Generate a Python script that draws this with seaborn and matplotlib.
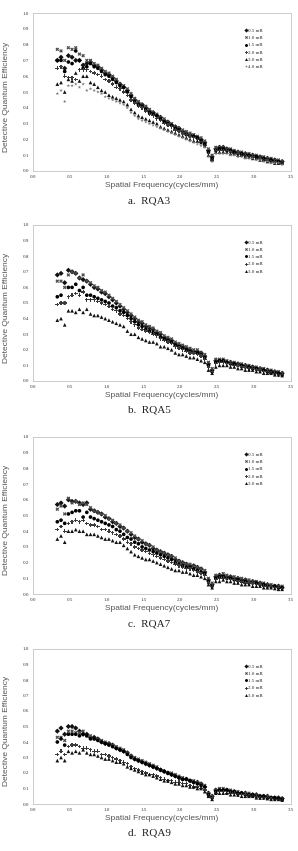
import pandas as pd
import matplotlib
matplotlib.use("Agg")
import matplotlib.pyplot as plt
import seaborn as sns

# spatial frequency sampling (cycles/mm), shared by every curve
freq = [0.33, 0.38, 0.43, 0.48, 0.53, 0.58, 0.63, 0.68, 0.73, 0.78,
        0.83, 0.88, 0.93, 0.98, 1.03, 1.08, 1.13, 1.18, 1.23, 1.28,
        1.33, 1.38, 1.43, 1.48, 1.53, 1.58, 1.63, 1.68, 1.73, 1.78,
        1.83, 1.88, 1.93, 1.98, 2.03, 2.08, 2.13, 2.18, 2.23, 2.28,
        2.33, 2.38, 2.43, 2.48, 2.53, 2.58, 2.63, 2.68, 2.73, 2.78,
        2.83, 2.88, 2.93, 2.98, 3.03, 3.08, 3.13, 3.18, 3.23, 3.28,
        3.33, 3.38]

doses = ["0.5 mR", "1.0 mR", "1.5 mR", "2.0 mR", "3.0 mR", "4.0 mR"]

# a. RQA3
rqa3_05 = [0.70, 0.72, 0.65, 0.73, 0.72, 0.70, 0.70, 0.67, 0.68, 0.69, 0.67, 0.66, 0.64, 0.62, 0.61, 0.59, 0.57, 0.55, 0.53, 0.51, 0.48, 0.45, 0.43, 0.42, 0.40, 0.38, 0.37, 0.35, 0.34, 0.32, 0.31, 0.29, 0.28, 0.27, 0.25, 0.24, 0.23, 0.22, 0.21, 0.20, 0.18, 0.13, 0.09, 0.14, 0.15, 0.15, 0.14, 0.13, 0.12, 0.12, 0.11, 0.11, 0.10, 0.10, 0.09, 0.09, 0.08, 0.08, 0.07, 0.07, 0.06, 0.06]
rqa3_10 = [0.77, 0.76, 0.70, 0.78, 0.77, 0.78, 0.74, 0.73, 0.70, 0.70, 0.68, 0.67, 0.65, 0.63, 0.62, 0.60, 0.58, 0.55, 0.54, 0.52, 0.49, 0.46, 0.44, 0.42, 0.41, 0.39, 0.37, 0.36, 0.34, 0.33, 0.31, 0.30, 0.28, 0.27, 0.26, 0.25, 0.24, 0.23, 0.22, 0.21, 0.19, 0.14, 0.10, 0.15, 0.15, 0.15, 0.14, 0.14, 0.13, 0.12, 0.12, 0.11, 0.11, 0.10, 0.10, 0.09, 0.09, 0.08, 0.08, 0.07, 0.07, 0.06]
rqa3_15 = [0.70, 0.70, 0.63, 0.69, 0.68, 0.76, 0.70, 0.65, 0.66, 0.68, 0.66, 0.65, 0.63, 0.61, 0.60, 0.58, 0.56, 0.54, 0.53, 0.50, 0.47, 0.44, 0.42, 0.41, 0.39, 0.37, 0.36, 0.35, 0.33, 0.31, 0.30, 0.29, 0.27, 0.26, 0.24, 0.23, 0.22, 0.22, 0.21, 0.19, 0.17, 0.12, 0.08, 0.13, 0.14, 0.14, 0.13, 0.13, 0.12, 0.11, 0.11, 0.10, 0.10, 0.09, 0.09, 0.08, 0.08, 0.07, 0.07, 0.06, 0.06, 0.05]
rqa3_20 = [0.65, 0.66, 0.60, 0.59, 0.59, 0.58, 0.64, 0.64, 0.64, 0.63, 0.62, 0.61, 0.60, 0.58, 0.57, 0.55, 0.53, 0.52, 0.50, 0.48, 0.45, 0.43, 0.41, 0.40, 0.38, 0.36, 0.35, 0.33, 0.32, 0.30, 0.29, 0.28, 0.26, 0.25, 0.24, 0.23, 0.22, 0.21, 0.20, 0.18, 0.16, 0.11, 0.07, 0.13, 0.13, 0.13, 0.13, 0.12, 0.11, 0.11, 0.10, 0.10, 0.09, 0.09, 0.08, 0.08, 0.07, 0.07, 0.06, 0.06, 0.05, 0.05]
rqa3_30 = [0.55, 0.56, 0.50, 0.58, 0.57, 0.62, 0.57, 0.60, 0.60, 0.56, 0.55, 0.53, 0.51, 0.50, 0.48, 0.47, 0.46, 0.45, 0.44, 0.42, 0.39, 0.37, 0.35, 0.34, 0.33, 0.32, 0.31, 0.30, 0.28, 0.27, 0.26, 0.25, 0.24, 0.23, 0.22, 0.21, 0.20, 0.19, 0.19, 0.18, 0.16, 0.10, 0.07, 0.12, 0.12, 0.12, 0.12, 0.11, 0.11, 0.10, 0.10, 0.09, 0.09, 0.08, 0.08, 0.07, 0.07, 0.06, 0.06, 0.05, 0.05, 0.05]
rqa3_40 = [0.49, 0.51, 0.44, 0.54, 0.54, 0.55, 0.53, 0.55, 0.51, 0.52, 0.51, 0.50, 0.49, 0.47, 0.46, 0.45, 0.44, 0.43, 0.42, 0.40, 0.37, 0.35, 0.33, 0.32, 0.31, 0.30, 0.29, 0.28, 0.27, 0.26, 0.25, 0.24, 0.23, 0.22, 0.21, 0.20, 0.19, 0.18, 0.17, 0.16, 0.15, 0.09, 0.06, 0.11, 0.11, 0.11, 0.11, 0.10, 0.10, 0.09, 0.09, 0.08, 0.08, 0.08, 0.07, 0.07, 0.06, 0.06, 0.05, 0.05, 0.05, 0.04]

# b. RQA5
rqa5_05 = [0.68, 0.69, 0.63, 0.71, 0.70, 0.69, 0.66, 0.65, 0.64, 0.62, 0.60, 0.59, 0.57, 0.56, 0.54, 0.52, 0.50, 0.48, 0.46, 0.44, 0.42, 0.40, 0.38, 0.37, 0.35, 0.34, 0.33, 0.31, 0.30, 0.28, 0.27, 0.26, 0.24, 0.23, 0.22, 0.21, 0.20, 0.19, 0.19, 0.18, 0.16, 0.11, 0.07, 0.13, 0.13, 0.13, 0.12, 0.12, 0.11, 0.11, 0.10, 0.10, 0.09, 0.09, 0.08, 0.08, 0.07, 0.07, 0.06, 0.06, 0.05, 0.05]
rqa5_10 = [0.64, 0.64, 0.60, 0.68, 0.70, 0.69, 0.66, 0.68, 0.64, 0.63, 0.61, 0.60, 0.58, 0.57, 0.55, 0.53, 0.51, 0.49, 0.47, 0.45, 0.43, 0.41, 0.39, 0.38, 0.36, 0.35, 0.34, 0.32, 0.31, 0.29, 0.28, 0.27, 0.25, 0.24, 0.23, 0.22, 0.21, 0.20, 0.20, 0.18, 0.17, 0.12, 0.08, 0.14, 0.14, 0.14, 0.13, 0.12, 0.12, 0.11, 0.11, 0.10, 0.10, 0.09, 0.09, 0.08, 0.08, 0.07, 0.07, 0.06, 0.06, 0.05]
rqa5_15 = [0.54, 0.55, 0.50, 0.60, 0.60, 0.62, 0.58, 0.60, 0.55, 0.55, 0.54, 0.53, 0.52, 0.51, 0.50, 0.48, 0.47, 0.45, 0.44, 0.42, 0.40, 0.38, 0.36, 0.35, 0.33, 0.32, 0.31, 0.30, 0.28, 0.27, 0.26, 0.25, 0.23, 0.22, 0.21, 0.20, 0.19, 0.18, 0.18, 0.17, 0.15, 0.10, 0.06, 0.12, 0.13, 0.13, 0.12, 0.11, 0.11, 0.10, 0.10, 0.09, 0.09, 0.08, 0.08, 0.07, 0.07, 0.06, 0.06, 0.05, 0.05, 0.04]
rqa5_20 = [0.49, 0.50, 0.50, 0.54, 0.55, 0.56, 0.55, 0.57, 0.52, 0.52, 0.52, 0.51, 0.50, 0.49, 0.48, 0.46, 0.45, 0.43, 0.42, 0.40, 0.38, 0.36, 0.34, 0.33, 0.32, 0.31, 0.30, 0.29, 0.27, 0.26, 0.25, 0.24, 0.22, 0.21, 0.20, 0.19, 0.18, 0.18, 0.17, 0.16, 0.14, 0.09, 0.06, 0.11, 0.12, 0.12, 0.11, 0.11, 0.10, 0.10, 0.09, 0.09, 0.08, 0.08, 0.07, 0.07, 0.06, 0.06, 0.05, 0.05, 0.04, 0.04]
rqa5_30 = [0.39, 0.40, 0.36, 0.45, 0.45, 0.44, 0.46, 0.44, 0.46, 0.43, 0.42, 0.42, 0.41, 0.40, 0.39, 0.38, 0.37, 0.36, 0.35, 0.32, 0.30, 0.30, 0.28, 0.27, 0.26, 0.25, 0.25, 0.24, 0.22, 0.22, 0.21, 0.20, 0.18, 0.17, 0.17, 0.16, 0.15, 0.15, 0.14, 0.13, 0.12, 0.07, 0.05, 0.09, 0.10, 0.10, 0.10, 0.09, 0.09, 0.08, 0.08, 0.07, 0.07, 0.07, 0.06, 0.06, 0.05, 0.05, 0.05, 0.04, 0.04, 0.035]

# c. RQA7
rqa7_05 = [0.57, 0.58, 0.56, 0.60, 0.59, 0.59, 0.58, 0.57, 0.58, 0.54, 0.53, 0.52, 0.51, 0.49, 0.48, 0.46, 0.45, 0.43, 0.42, 0.40, 0.38, 0.36, 0.35, 0.33, 0.32, 0.31, 0.29, 0.28, 0.27, 0.26, 0.25, 0.24, 0.22, 0.21, 0.20, 0.19, 0.18, 0.18, 0.17, 0.16, 0.14, 0.09, 0.06, 0.11, 0.12, 0.12, 0.11, 0.11, 0.10, 0.10, 0.09, 0.09, 0.08, 0.08, 0.07, 0.07, 0.06, 0.06, 0.05, 0.05, 0.05, 0.04]
rqa7_10 = [0.54, 0.56, 0.51, 0.61, 0.58, 0.59, 0.57, 0.58, 0.57, 0.55, 0.53, 0.52, 0.51, 0.50, 0.48, 0.47, 0.45, 0.44, 0.42, 0.40, 0.39, 0.37, 0.35, 0.34, 0.32, 0.31, 0.30, 0.28, 0.27, 0.26, 0.25, 0.24, 0.23, 0.21, 0.20, 0.19, 0.19, 0.18, 0.17, 0.16, 0.15, 0.10, 0.07, 0.12, 0.12, 0.13, 0.12, 0.11, 0.11, 0.10, 0.10, 0.09, 0.09, 0.08, 0.08, 0.07, 0.07, 0.06, 0.06, 0.05, 0.05, 0.05]
rqa7_15 = [0.46, 0.47, 0.45, 0.51, 0.52, 0.53, 0.53, 0.49, 0.52, 0.49, 0.48, 0.47, 0.46, 0.45, 0.44, 0.43, 0.41, 0.40, 0.38, 0.36, 0.35, 0.33, 0.32, 0.30, 0.29, 0.28, 0.27, 0.26, 0.25, 0.24, 0.23, 0.22, 0.20, 0.19, 0.18, 0.17, 0.17, 0.16, 0.15, 0.14, 0.13, 0.08, 0.05, 0.10, 0.11, 0.11, 0.10, 0.10, 0.09, 0.09, 0.08, 0.08, 0.07, 0.07, 0.07, 0.06, 0.06, 0.05, 0.05, 0.05, 0.04, 0.04]
rqa7_20 = [0.41, 0.43, 0.40, 0.45, 0.46, 0.47, 0.46, 0.47, 0.45, 0.44, 0.44, 0.43, 0.41, 0.41, 0.40, 0.39, 0.38, 0.37, 0.35, 0.33, 0.32, 0.30, 0.29, 0.28, 0.27, 0.26, 0.25, 0.24, 0.23, 0.22, 0.21, 0.20, 0.19, 0.18, 0.17, 0.16, 0.16, 0.15, 0.14, 0.13, 0.12, 0.07, 0.05, 0.09, 0.10, 0.10, 0.10, 0.09, 0.09, 0.08, 0.08, 0.07, 0.07, 0.07, 0.06, 0.06, 0.05, 0.05, 0.05, 0.04, 0.04, 0.035]
rqa7_30 = [0.35, 0.37, 0.33, 0.40, 0.40, 0.41, 0.40, 0.40, 0.38, 0.38, 0.38, 0.37, 0.36, 0.35, 0.35, 0.34, 0.33, 0.33, 0.31, 0.29, 0.27, 0.25, 0.24, 0.23, 0.22, 0.22, 0.21, 0.20, 0.19, 0.18, 0.17, 0.16, 0.15, 0.15, 0.14, 0.14, 0.13, 0.12, 0.12, 0.11, 0.10, 0.06, 0.04, 0.08, 0.08, 0.09, 0.08, 0.08, 0.07, 0.07, 0.06, 0.06, 0.06, 0.05, 0.05, 0.05, 0.04, 0.04, 0.04, 0.035, 0.03, 0.03]

# d. RQA9
rqa9_05 = [0.47, 0.49, 0.45, 0.50, 0.50, 0.49, 0.47, 0.45, 0.45, 0.43, 0.43, 0.42, 0.40, 0.39, 0.39, 0.38, 0.36, 0.35, 0.34, 0.33, 0.31, 0.29, 0.28, 0.27, 0.26, 0.25, 0.24, 0.23, 0.22, 0.21, 0.20, 0.19, 0.18, 0.17, 0.16, 0.16, 0.15, 0.14, 0.14, 0.13, 0.11, 0.07, 0.05, 0.09, 0.09, 0.09, 0.09, 0.08, 0.08, 0.07, 0.07, 0.07, 0.06, 0.06, 0.06, 0.05, 0.05, 0.05, 0.04, 0.04, 0.04, 0.035]
rqa9_10 = [0.43, 0.43, 0.41, 0.47, 0.47, 0.46, 0.46, 0.47, 0.44, 0.44, 0.42, 0.42, 0.41, 0.40, 0.39, 0.38, 0.37, 0.36, 0.35, 0.33, 0.31, 0.30, 0.29, 0.28, 0.27, 0.26, 0.25, 0.24, 0.22, 0.21, 0.20, 0.20, 0.19, 0.18, 0.17, 0.16, 0.15, 0.15, 0.14, 0.13, 0.12, 0.07, 0.05, 0.09, 0.10, 0.10, 0.09, 0.09, 0.08, 0.08, 0.07, 0.07, 0.07, 0.06, 0.06, 0.05, 0.05, 0.05, 0.04, 0.04, 0.04, 0.035]
rqa9_15 = [0.40, 0.42, 0.38, 0.45, 0.45, 0.45, 0.44, 0.45, 0.44, 0.42, 0.42, 0.41, 0.40, 0.39, 0.38, 0.37, 0.36, 0.35, 0.34, 0.32, 0.30, 0.29, 0.28, 0.27, 0.26, 0.25, 0.24, 0.23, 0.22, 0.21, 0.20, 0.19, 0.18, 0.17, 0.16, 0.16, 0.15, 0.14, 0.13, 0.12, 0.11, 0.06, 0.04, 0.08, 0.09, 0.09, 0.09, 0.08, 0.08, 0.07, 0.07, 0.06, 0.06, 0.06, 0.05, 0.05, 0.05, 0.04, 0.04, 0.04, 0.035, 0.03]
rqa9_20 = [0.32, 0.34, 0.32, 0.37, 0.38, 0.38, 0.37, 0.36, 0.36, 0.35, 0.34, 0.34, 0.32, 0.32, 0.31, 0.30, 0.29, 0.28, 0.27, 0.26, 0.24, 0.23, 0.22, 0.21, 0.20, 0.19, 0.19, 0.18, 0.17, 0.16, 0.15, 0.15, 0.14, 0.14, 0.13, 0.13, 0.12, 0.11, 0.11, 0.10, 0.09, 0.05, 0.04, 0.07, 0.08, 0.08, 0.07, 0.07, 0.07, 0.06, 0.06, 0.06, 0.05, 0.05, 0.05, 0.04, 0.04, 0.04, 0.035, 0.03, 0.03, 0.025]
rqa9_30 = [0.28, 0.30, 0.28, 0.34, 0.33, 0.34, 0.33, 0.35, 0.33, 0.32, 0.32, 0.31, 0.30, 0.29, 0.29, 0.28, 0.27, 0.27, 0.26, 0.24, 0.23, 0.22, 0.21, 0.20, 0.19, 0.19, 0.18, 0.17, 0.16, 0.15, 0.15, 0.14, 0.13, 0.13, 0.12, 0.12, 0.11, 0.11, 0.10, 0.10, 0.08, 0.05, 0.03, 0.07, 0.07, 0.07, 0.07, 0.06, 0.06, 0.06, 0.05, 0.05, 0.05, 0.05, 0.04, 0.04, 0.04, 0.035, 0.03, 0.03, 0.03, 0.025]

panels = [
    ("a.  RQA3", [rqa3_05, rqa3_10, rqa3_15, rqa3_20, rqa3_30, rqa3_40]),
    ("b.  RQA5", [rqa5_05, rqa5_10, rqa5_15, rqa5_20, rqa5_30]),
    ("c.  RQA7", [rqa7_05, rqa7_10, rqa7_15, rqa7_20, rqa7_30]),
    ("d.  RQA9", [rqa9_05, rqa9_10, rqa9_15, rqa9_20, rqa9_30]),
]

marker_map = {"0.5 mR": "D", "1.0 mR": "X", "1.5 mR": "o",
              "2.0 mR": "P", "3.0 mR": "^", "4.0 mR": "*"}
color_map = {"0.5 mR": "#111111", "1.0 mR": "#4a4a4a", "1.5 mR": "#000000",
             "2.0 mR": "#3a3a3a", "3.0 mR": "#111111", "4.0 mR": "#7a7a7a"}

sns.set_style("white")
plt.rcParams["font.family"] = ["Liberation Serif", "DejaVu Serif"]

W, H = 298, 851
fig = plt.figure(figsize=(W / 100, H / 100), dpi=100)

# plot-area pixel boxes (top, bottom) for each panel
boxes = [(13, 171), (225, 381), (437, 594), (649, 804)]
left_px, right_px = 33, 291

for (caption, series), (top, bottom) in zip(panels, boxes):
    ax = fig.add_axes([left_px / W, (H - bottom) / H,
                       (right_px - left_px) / W, (bottom - top) / H])
    names = doses[:len(series)]
    df = pd.concat(
        [pd.DataFrame({"freq": freq, "dqe": vals, "dose": name})
         for name, vals in zip(names, series)],
        ignore_index=True,
    )
    sns.scatterplot(
        data=df, x="freq", y="dqe", hue="dose", style="dose",
        markers={k: marker_map[k] for k in names},
        palette={k: color_map[k] for k in names},
        s=7, edgecolor="none", ax=ax,
    )
    sns.move_legend(
        ax, "upper right", bbox_to_anchor=(0.905, 0.925), title=None,
        frameon=False, fontsize=3.6, handletextpad=0.1, labelspacing=0.55,
        handlelength=0.8, borderpad=0.2, markerscale=0.8,
    )

    ax.set_xlim(0, 3.5)
    ax.set_ylim(0, 1.0)
    ax.set_xticks([0.0, 0.5, 1.0, 1.5, 2.0, 2.5, 3.0, 3.5])
    ax.set_yticks([i / 10 for i in range(11)])
    ax.xaxis.set_major_formatter(matplotlib.ticker.FormatStrFormatter("%.1f"))
    ax.yaxis.set_major_formatter(matplotlib.ticker.FormatStrFormatter("%.1f"))
    ax.tick_params(labelsize=3.6, length=1.5, width=0.4, color="#b0b0b0",
                   pad=1.5, labelcolor="#333333")

    for spine in ax.spines.values():
        spine.set_visible(True)
        spine.set_linewidth(0.6)
        spine.set_color("#c4c4c4")

    ax.set_xlabel("Spatial Frequency(cycles/mm)", fontsize=6,
                  color="#555555", family="Liberation Sans")
    ax.set_ylabel("Detective Quantum Efficiency", fontsize=6,
                  color="#555555", family="Liberation Sans")
    ax.xaxis.set_label_coords(0.5, -0.072)
    ax.yaxis.set_label_coords(-0.088, 0.47)

    ax.text(0.45, -0.16, caption, transform=ax.transAxes, ha="center",
            va="top", fontsize=8, color="#222222")

fig.savefig("out.png", dpi=100)
